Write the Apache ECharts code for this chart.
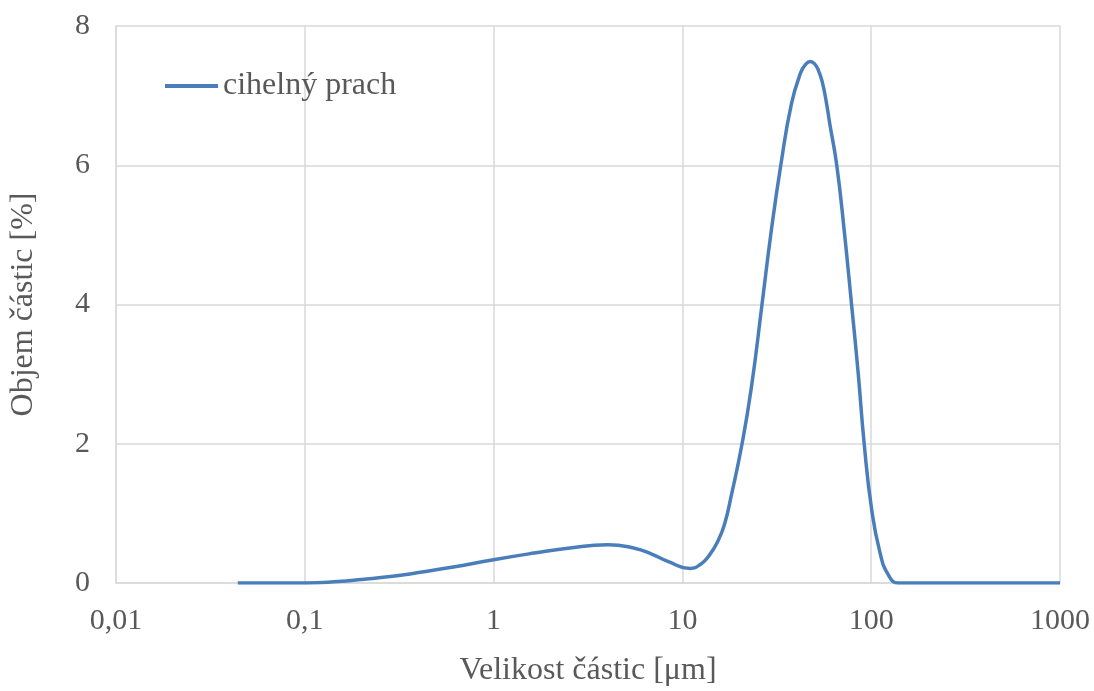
<!DOCTYPE html>
<html>
<head>
<meta charset="utf-8">
<script src="https://cdn.jsdelivr.net/npm/echarts@6/dist/echarts.min.js"></script>
<style>
html,body{margin:0;padding:0;background:#fff;}
#chart{width:1094px;height:691px;}
</style>
</head>
<body>
<div id="chart"></div>
<script>
const seriesName = 'cihelný prach';
const sizes = [0.0442, 0.06, 0.1, 0.15, 0.2, 0.3, 0.4, 0.6, 1, 1.64, 2.47, 4.03, 5.57, 6.83, 8.37, 11, 12.5, 13.9, 15.4, 16.7, 18.2, 20.7, 23.2, 26.4, 29.6, 33.2, 37.8, 42.3, 45, 47.6, 50, 52.4, 55, 57.9, 60.3, 65.7, 71.9, 78.7, 85.3, 91.8, 100.4, 111, 123, 139, 160, 250, 500, 1000];
const volume = [0, 0, 0, 0.02, 0.05, 0.10, 0.15, 0.225, 0.335, 0.43, 0.50, 0.55, 0.50, 0.42, 0.31, 0.21, 0.27, 0.40, 0.6, 0.84, 1.27, 2.0, 2.81, 4.0, 5.07, 6.0, 6.88, 7.33, 7.45, 7.49, 7.46, 7.37, 7.2, 6.9, 6.6, 6.0, 5.07, 4.0, 3.02, 2.0, 1.07, 0.45, 0.12, 0.0, 0, 0, 0, 0];
const xTickLabels = {'-2':'0,01','-1':'0,1','0':'1','1':'10','2':'100','3':'1000'};
const yMin = 0, yMax = 8, yInterval = 2;

const txt = '#595959';
const font = '"Liberation Serif","Times New Roman",serif';
const chart = echarts.init(document.getElementById('chart'), null, {renderer:'canvas'});
chart.setOption({
  animation: false,
  backgroundColor: '#fff',
  grid: {left: 116, right: 34, top: 26, bottom: 108, containLabel: false, outerBoundsMode: 'none'},
  legend: {
    show: true, left: 165, top: 70, padding: 0,
    itemWidth: 53, itemHeight: 14, itemGap: 4,
    textStyle: {color: txt, fontFamily: font, fontSize: 32, padding:[0,0,0,0]},
    data: [{name: seriesName, icon: 'path://M0,0 L53,0 L53,4 L0,4 Z'}]
  },
  xAxis: {
    type: 'log', logBase: 10, min: 0.01, max: 1000,
    name: 'Velikost částic [μm]', nameLocation: 'middle', nameGap: 72,
    nameTextStyle: {color: txt, fontFamily: font, fontSize: 32},
    axisLine: {show: true, lineStyle: {color: '#d9d9d9', width: 1.5}},
    axisTick: {show: false},
    minorTick: {show: false},
    axisLabel: {color: txt, fontFamily: font, fontSize: 30, margin: 23,
      formatter: v => xTickLabels[String(Math.round(Math.log10(v)))] || ''},
    splitLine: {show: true, lineStyle: {color: '#d9d9d9', width: 1.5}}
  },
  yAxis: {
    type: 'value', min: yMin, max: yMax, interval: yInterval,
    name: 'Objem částic [%]', nameLocation: 'middle', nameGap: 76,
    nameTextStyle: {color: txt, fontFamily: font, fontSize: 32},
    axisLine: {show: true, lineStyle: {color: '#d9d9d9', width: 1.5}},
    axisTick: {show: false},
    axisLabel: {color: txt, fontFamily: font, fontSize: 30, margin: 26},
    splitLine: {show: true, lineStyle: {color: '#d9d9d9', width: 1.5}}
  },
  series: [{
    name: seriesName, type: 'line', smooth: 0.5, symbol: 'none', showSymbol: false,
    lineStyle: {color: '#4a7ebb', width: 3.5},
    itemStyle: {color: '#4a7ebb'},
    data: sizes.map((s, i) => [s, volume[i]])
  }]
});
</script>
</body>
</html>
